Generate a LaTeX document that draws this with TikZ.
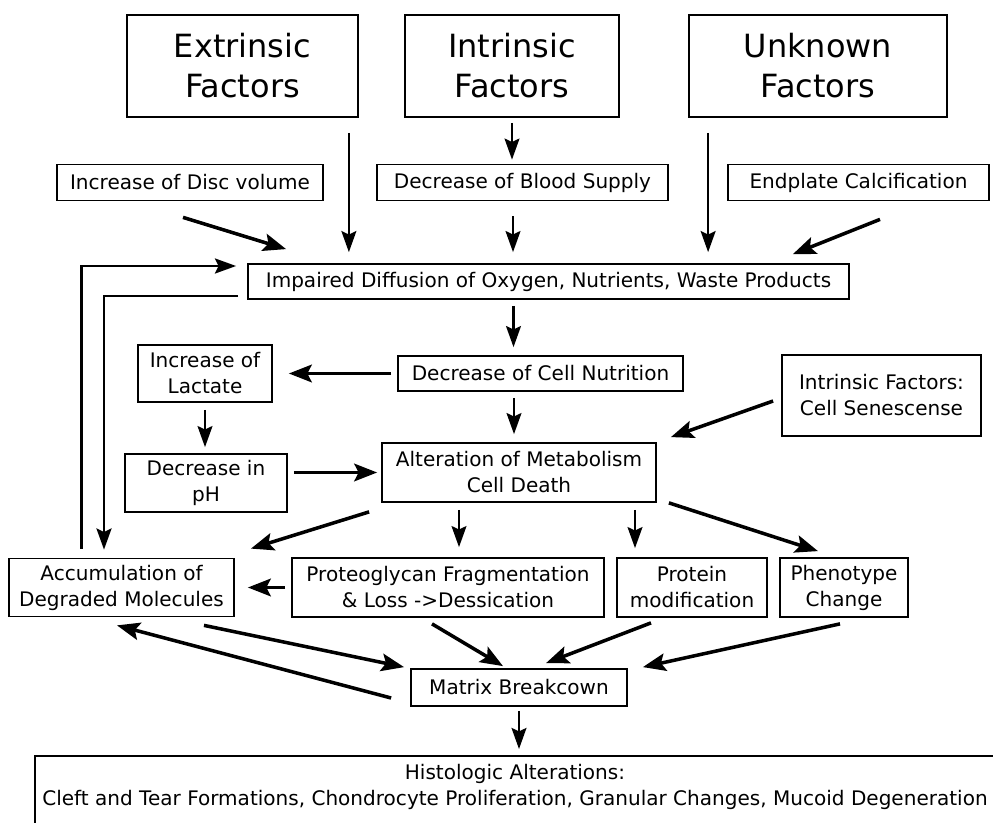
\documentclass[tikz,border=0pt]{standalone}
\usepackage{fontspec}
\setmainfont{DejaVu Sans}
\usetikzlibrary{arrows.meta,positioning}
\newcommand{\factorfont}{\fontsize{18.2}{22.8}\selectfont}
\newcommand{\stagefont}{\fontsize{11.4}{14.8}\selectfont}
\tikzset{
    factor/.style={
    rectangle,draw=black,line width=1pt,font=\factorfont,align=center,minimum height=2.04cm
    },
    stage/.style={
    rectangle,draw=black,line width=1pt,font=\stagefont,align=center,minimum height=0.72cm,inner sep=2pt
    },
    link/.style={
    -{Stealth[length=12pt,width=8.5pt,inset=2pt]},line width=1.2pt
    },
    push/.style={
    -{Stealth[length=13pt,width=10pt,inset=2.5pt]},line width=2pt
    },
}
\begin{document}
\begin{tikzpicture}[node distance=2cm, on grid]
   \useasboundingbox (0,0) rectangle (19.86,-16.46);
   %intr
   \node[factor,minimum width=4.28cm] (intr) at (10.24,-1.32) {Intrinsic\\Factors};
   %extr
   \node[factor,minimum width=4.62cm] (extr) [left = 5.39cm of intr] {Extrinsic\\Factors};
   %unkn
   \node[factor,minimum width=5.16cm] (unkn) [right = 6.12cm of intr] {Unknown\\Factors};
   %blood
   \node[stage,minimum width=5.82cm] (blood) [below right = 2.33cm and 0.21cm of intr] {Decrease of Blood Supply};
   %disc
   \node[stage,minimum width=5.32cm] (disc) [left = 6.65cm of blood] {Increase of Disc volume};
   %endp
   \node[stage,minimum width=5.22cm] (endp) [right = 6.72cm of blood] {Endplate Calcification};
   %impair
   \node[stage,minimum width=12.02cm,minimum height=0.70cm] (impair) [below right = 1.98cm and 0.52cm of blood] {Impaired Diffusion of Oxygen, Nutrients, Waste Products};
   %nutr
   \node[stage,minimum width=5.70cm,minimum height=0.70cm] (nutr) [below left = 1.84cm and 0.16cm of impair] {Decrease of Cell Nutrition};
   %lact
   \node[stage,minimum width=2.68cm,minimum height=1.14cm] (lact) [left = 6.71cm of nutr] {Increase of\\Lactate};
   %alter
   \node[stage,minimum width=5.48cm,minimum height=1.18cm] (alter) [below left = 1.98cm and 0.43cm of nutr] {Alteration of Metabolism\\Cell Death};
   %sene
   \node[stage,minimum width=3.98cm,minimum height=1.62cm] (sene) [above right = 1.54cm and 7.25cm of alter] {Intrinsic Factors:\\Cell Senescense};
   %ph
   \node[stage,minimum width=3.24cm,minimum height=1.16cm] (ph) [below left = 0.21cm and 6.26cm of alter] {Decrease in\\pH};
   %prot
   \node[stage,minimum width=6.24cm,minimum height=1.18cm] (prot) [below left = 2.30cm and 1.42cm of alter] {Proteoglycan Fragmentation\\\& Loss ->Dessication};
   %accum
   \node[stage,minimum width=4.50cm,minimum height=1.16cm] (accum) [left = 6.53cm of prot] {Accumulation of\\Degraded Molecules};
   %pmod
   \node[stage,minimum width=3.00cm,minimum height=1.18cm] (pmod) [right = 4.88cm of prot] {Protein\\modification};
   %phen
   \node[stage,minimum width=2.56cm,minimum height=1.18cm] (phen) [right = 3.04cm of pmod] {Phenotype\\Change};
   %matrix
   \node[stage,minimum width=4.32cm,minimum height=0.74cm] (matrix) [below = 4.30cm of alter] {Matrix Breakcown};
   %histo
   \node[stage,minimum width=19.2cm,inner ysep=5pt,text depth=1.2cm] (histo) [below left = 1.35cm and 0.08cm of matrix, anchor=north] {Histologic Alterations:\\Cleft and Tear Formations, Chondrocyte Proliferation, Granular Changes, Mucoid Degeneration};

   \path[link]
   %factors
    ([xshift=-0.2cm,yshift=-0.3cm]extr.south east) edge ([xshift=-0.2cm,yshift=0.22cm]extr.south east |- impair.north)
    ([yshift=-0.1cm]intr.south) edge ([yshift=0.08cm]intr.south |- blood.north)
    ([xshift=0.4cm,yshift=-0.3cm]unkn.south west) edge ([xshift=0.4cm,yshift=0.22cm]unkn.south west |- impair.north)
    ([xshift=-0.19cm,yshift=-0.3cm]blood.south) edge ([xshift=-0.19cm,yshift=0.22cm]blood.south |- impair.north)
   %nutr
    ([xshift=-0.7cm,yshift=-0.12cm]impair.south) edge ([xshift=-0.7cm,yshift=0.16cm]impair.south |- nutr.north)
    ([yshift=-0.14cm]lact.south) edge ([yshift=0.12cm]lact.south |- ph.north)
    ([xshift=-0.53cm,yshift=-0.12cm]nutr.south) edge ([xshift=-0.53cm,yshift=0.16cm]nutr.south |- alter.north)
   %alter
    ([xshift=-1.2cm,yshift=-0.14cm]alter.south) edge ([xshift=-1.2cm,yshift=0.2cm]alter.south |- prot.north)
    ([xshift=2.32cm,yshift=-0.14cm]alter.south) edge ([xshift=2.32cm,yshift=0.18cm]alter.south |- pmod.north)
   %histo
    ([yshift=-0.08cm]matrix.south) edge ([yshift=0.12cm]matrix.south |- histo.north)
   ;
   %loops
   \draw[link,line width=1.6pt] ([xshift=1.46cm,yshift=0.18cm]accum.north west) |- ([xshift=-0.22cm,yshift=0.31cm]impair.west);
   \draw[link,line width=1.6pt] ([xshift=-0.18cm,yshift=-0.29cm]impair.west) -| ([xshift=-0.35cm,yshift=0.16cm]accum.north);

   \path[push]
   %impair
    ([xshift=-0.14cm,yshift=-0.32cm]disc.south) edge ([xshift=0.78cm,yshift=0.28cm]impair.north west)
    ([xshift=0.43cm,yshift=-0.36cm]endp.south) edge ([xshift=-1.14cm,yshift=0.18cm]impair.north east)
   %lact, ph
    ([xshift=-0.12cm]nutr.west) edge ([xshift=0.32cm]lact.east)
    ([xshift=0.12cm]ph.east |- alter.west) edge ([xshift=-0.08cm]alter.west)
   %sene
    ([xshift=-0.16cm,yshift=-0.11cm]sene.west) edge ([xshift=0.28cm,yshift=0.1cm]alter.north east)
   %alter
    ([xshift=-0.24cm,yshift=-0.18cm]alter.south west) edge ([xshift=0.32cm,yshift=0.18cm]accum.north east)
    ([xshift=0.24cm]alter.south east) edge ([xshift=-0.52cm,yshift=0.12cm]phen.north)
   %accum
    ([xshift=-0.12cm]prot.west) edge ([xshift=0.26cm]accum.east |- prot.west)
   %matrix
    ([xshift=1.65cm,yshift=-0.16cm]accum.south) edge ([xshift=-0.12cm,yshift=0.02cm]matrix.north west)
    ([xshift=-0.38cm,yshift=-0.21cm]matrix.west) edge ([xshift=-0.09cm,yshift=-0.16cm]accum.south)
    ([xshift=-0.32cm,yshift=-0.12cm]prot.south) edge ([xshift=-0.32cm,yshift=0.04cm]matrix.north)
    ([xshift=-0.82cm,yshift=-0.1cm]pmod.south) edge ([xshift=0.54cm,yshift=0.1cm]matrix.north)
    ([xshift=-0.08cm,yshift=-0.12cm]phen.south) edge ([xshift=0.3cm,yshift=0.02cm]matrix.north east)
   ;
\end{tikzpicture}
\end{document}
